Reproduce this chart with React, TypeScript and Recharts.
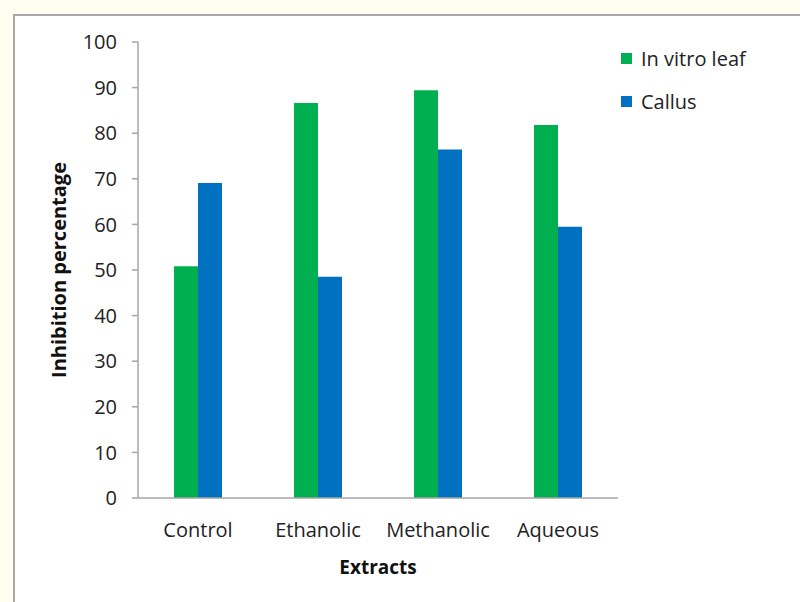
import React from 'react';
import { BarChart, Bar, XAxis, YAxis, Label } from 'recharts';

const categories = ['Control', 'Ethanolic', 'Methanolic', 'Aqueous'];
const inVitroLeaf = [50.8, 86.6, 89.4, 81.8];
const callus = [69.1, 48.5, 76.4, 59.5];
const yTicks = [0, 10, 20, 30, 40, 50, 60, 70, 80, 90, 100];
const seriesNames = ['In vitro leaf', 'Callus'];
const seriesColors = ['#00b050', '#0070c0'];

const data = categories.map((c, i) => ({ name: c, leaf: inVitroLeaf[i], callus: callus[i] }));

const FONT = '"Open Sans", sans-serif';
const TEXT = '#222222';
const AXIS = '#a6a6a6';

export default function App() {
  return (
    <div style={{ position: 'absolute', left: 0, top: 0, width: 800, height: 602, background: '#fffdf0', overflow: 'hidden', fontFamily: FONT }}>
      <div style={{ position: 'absolute', left: 13, top: 14, width: 800, height: 600, background: '#ffffff', border: '2px solid #a8a8a8' }} />
      <div style={{ position: 'absolute', left: 0, top: 0 }}>
        <BarChart width={800} height={602} data={data} margin={{ top: 42, right: 182, left: 78, bottom: 74 }} barCategoryGap="30%" barGap={0}>
          <XAxis dataKey="name" height={30} tickLine={false} tickSize={0} tickMargin={25} axisLine={{ stroke: AXIS, strokeWidth: 1.5 }} tick={{ fill: TEXT, fontSize: 20, fontFamily: FONT }} interval={0}>
            <Label value="Extracts" position="bottom" offset={33} style={{ fill: '#111', fontSize: 19, fontWeight: 700, fontFamily: FONT }} />
          </XAxis>
          <YAxis width={60} domain={[0, 100]} ticks={yTicks} interval={0} tickSize={6} tickMargin={15} axisLine={{ stroke: AXIS, strokeWidth: 1.5 }} tickLine={{ stroke: AXIS, strokeWidth: 1.5 }} tick={{ fill: TEXT, fontSize: 20, fontFamily: FONT }}>
            <Label value="Inhibition percentage" angle={-90} position="insideLeft" dx={-24} style={{ textAnchor: 'middle', fill: '#111', fontSize: 20, fontWeight: 700, fontFamily: FONT }} />
          </YAxis>
          <Bar dataKey="leaf" name={seriesNames[0]} fill={seriesColors[0]} isAnimationActive={false} />
          <Bar dataKey="callus" name={seriesNames[1]} fill={seriesColors[1]} isAnimationActive={false} />
        </BarChart>
      </div>
      {seriesNames.map((n, i) => (
        <div key={n} style={{ position: 'absolute', left: 621, top: 45 + i * 43, display: 'flex', alignItems: 'center', fontSize: 20, color: TEXT, fontFamily: FONT }}>
          <div style={{ width: 11, height: 11, background: seriesColors[i], marginRight: 9 }} />
          <span>{n}</span>
        </div>
      ))}
    </div>
  );
}
